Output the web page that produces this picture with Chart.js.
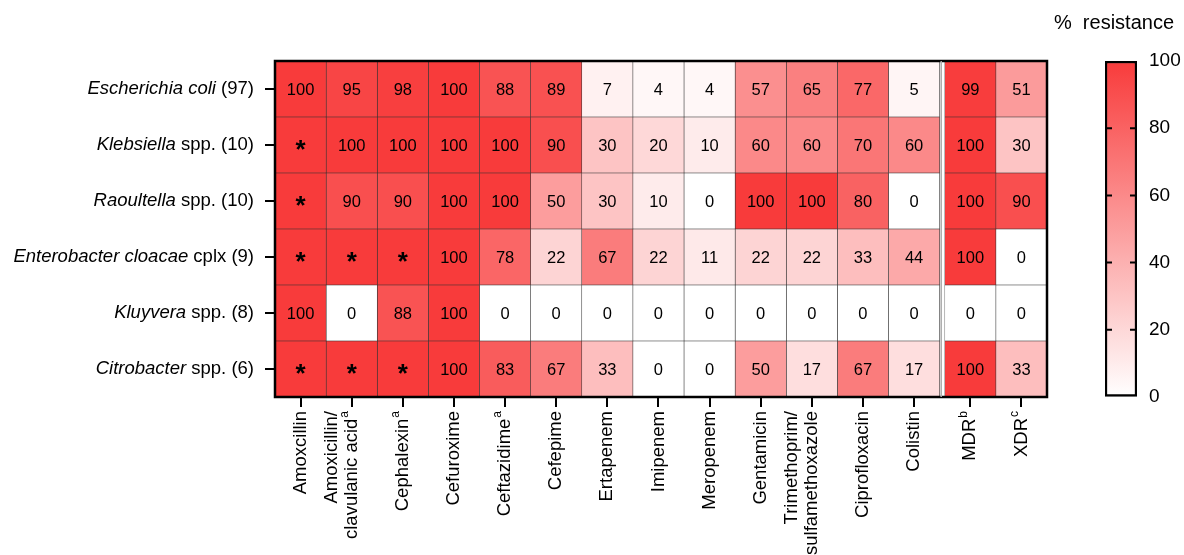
<!DOCTYPE html>
<html>
<head>
<meta charset="utf-8">
<script src="https://cdn.jsdelivr.net/npm/chart.js@4.4.1/dist/chart.umd.min.js"></script>
<style>
  html, body { margin: 0; padding: 0; background: #fff; }
  #wrap { position: relative; width: 1184px; height: 555px; }
  canvas { position: absolute; top: 0; }
</style>
</head>
<body>
<div id="wrap">
  <canvas id="heat" width="1184" height="555" style="left:0"></canvas>
  <canvas id="scale" width="144" height="555" style="left:1040px"></canvas>
</div>
<script>
// ── data ──
const species = ['Escherichia coli', 'Klebsiella', 'Raoultella', 'Enterobacter cloacae', 'Kluyvera', 'Citrobacter'];
const speciesSuffix = [' (97)', ' spp. (10)', ' spp. (10)', ' cplx (9)', ' spp. (8)', ' spp. (6)'];
const drugs = [['Amoxcillin'], ['Amoxicillin/', 'clavulanic acid'], ['Cephalexin'], ['Cefuroxime'], ['Ceftazidime'],
  ['Cefepime'], ['Ertapenem'], ['Imipenem'], ['Meropenem'], ['Gentamicin'], ['Trimethoprim/', 'sulfamethoxazole'],
  ['Ciprofloxacin'], ['Colistin'], ['MDR'], ['XDR']];
const drugSup = ['', 'a', 'a', '', 'a', '', '', '', '', '', '', '', '', 'b', 'c'];
const scaleTicks = [0, 20, 40, 60, 80, 100];

// % resistance per species, null = intrinsic resistance (*)
const ecoli        = [100, 95, 98, 100, 88, 89, 7, 4, 4, 57, 65, 77, 5, 99, 51];
const klebsiella   = [null, 100, 100, 100, 100, 90, 30, 20, 10, 60, 60, 70, 60, 100, 30];
const raoultella   = [null, 90, 90, 100, 100, 50, 30, 10, 0, 100, 100, 80, 0, 100, 90];
const enterobacter = [null, null, null, 100, 78, 22, 67, 22, 11, 22, 22, 33, 44, 100, 0];
const kluyvera     = [100, 0, 88, 100, 0, 0, 0, 0, 0, 0, 0, 0, 0, 0, 0];
const citrobacter  = [null, null, null, 100, 83, 67, 33, 0, 0, 50, 17, 67, 17, 100, 33];
const rows = [ecoli, klebsiella, raoultella, enterobacter, kluyvera, citrobacter];

// ── helpers ──
const FONT = '"Liberation Sans", Arial, sans-serif';
const GAP = 0.1;                       // small gap before MDR / XDR
const colStart = j => j + (j >= 13 ? GAP : 0);
const colorFor = v => {
  const t = (v == null ? 100 : v) / 100;
  const r = Math.round(255 - 7 * t), g = Math.round(255 - 196 * t);
  return `rgb(${r},${g},${g})`;
};

// ── labels, cell values, frame ──
const heatPlugin = {
  id: 'heatText',
  afterDatasetsDraw(chart) {
    const { ctx, chartArea, scales: { x, y } } = chart;
    ctx.save();
    ctx.fillStyle = '#000';
    ctx.textAlign = 'center';
    ctx.textBaseline = 'middle';
    chart.data.datasets.forEach((ds, j) => {
      chart.getDatasetMeta(j).data.forEach((el, i) => {
        const v = rows[i][j];
        const cx = (el.x + el.base) / 2;
        if (v == null) {
          ctx.font = 'bold 26px ' + FONT;
          ctx.fillText('*', cx, el.y + 6);
        } else {
          ctx.font = '16.5px ' + FONT;
          ctx.fillText(String(v), cx, el.y + 1);
        }
      });
    });

    // frame
    ctx.strokeStyle = '#000';
    ctx.lineWidth = 2.5;
    ctx.strokeRect(chartArea.left, chartArea.top, chartArea.right - chartArea.left, chartArea.bottom - chartArea.top);
    // separator before MDR
    const gx = x.getPixelForValue(13 + GAP / 2);
    ctx.strokeStyle = '#aaa';
    ctx.lineWidth = 1.5;
    ctx.beginPath();
    ctx.moveTo(gx - 1, chartArea.top);
    ctx.lineTo(gx - 1, chartArea.bottom);
    ctx.stroke();

    // row labels: italic genus + plain suffix
    ctx.textAlign = 'right';
    species.forEach((name, i) => {
      const py = y.getPixelForValue(i);
      const right = chartArea.left - 21;
      ctx.font = '18.5px ' + FONT;
      const w = ctx.measureText(speciesSuffix[i]).width;
      ctx.fillText(speciesSuffix[i], right, py);
      ctx.font = 'italic 18.5px ' + FONT;
      ctx.fillText(name, right - w, py);
    });

    // column labels, rotated, with superscripts
    drugs.forEach((lines, j) => {
      const px = x.getPixelForValue(colStart(j) + 0.5);
      ctx.save();
      ctx.translate(px, chartArea.bottom + 14);
      ctx.rotate(-Math.PI / 2);
      lines.forEach((line, k) => {
        const dy = (k - (lines.length - 1)) * 20;
        let off = 0;
        if (k === lines.length - 1 && drugSup[j]) {
          ctx.font = '12px ' + FONT;
          ctx.fillText(drugSup[j], 0, dy - 7);
          off = ctx.measureText(drugSup[j]).width + 1;
        }
        ctx.font = '18.5px ' + FONT;
        ctx.fillText(line, -off, dy);
      });
      ctx.restore();
    });
    ctx.restore();
  }
};

new Chart(document.getElementById('heat').getContext('2d'), {
  type: 'bar',
  data: {
    labels: species,
    datasets: drugs.map((d, j) => ({
      label: d.join(' '),
      data: rows.map(() => [colStart(j), colStart(j) + 1]),
      backgroundColor: c => colorFor(rows[c.dataIndex][j]),
      borderColor: '#333',
      borderWidth: 0.6,
      borderSkipped: false,
      grouped: false,
      barPercentage: 1,
      categoryPercentage: 1
    }))
  },
  options: {
    indexAxis: 'y',
    responsive: false,
    animation: false,
    layout: { padding: { left: 0, top: 61, right: 137, bottom: 0 } },
    plugins: { legend: { display: false }, tooltip: { enabled: false } },
    scales: {
      x: {
        type: 'linear', min: 0, max: 15 + GAP,
        afterBuildTicks: axis => { axis.ticks = drugs.map((d, j) => ({ value: colStart(j) + 0.5 })); },
        afterFit: axis => { axis.height = 158; },
        ticks: { display: false },
        grid: { drawOnChartArea: false, drawTicks: true, tickLength: 10, tickWidth: 2, tickColor: '#000', lineWidth: 2, color: '#000' },
        border: { display: false }
      },
      y: {
        afterFit: axis => { axis.width = 275; },
        ticks: { display: false },
        grid: { offset: false, drawOnChartArea: false, drawTicks: true, tickLength: 10, tickWidth: 2, tickColor: '#000', lineWidth: 2, color: '#000' },
        border: { display: false }
      }
    }
  },
  plugins: [heatPlugin]
});

// ── colour scale ──
const scalePlugin = {
  id: 'scaleDeco',
  afterDraw(chart) {
    const { ctx, chartArea, scales: { y } } = chart;
    ctx.save();
    ctx.strokeStyle = '#000';
    ctx.lineWidth = 2;
    scaleTicks.slice(1, -1).forEach(v => {
      const py = y.getPixelForValue(v);
      ctx.beginPath();
      ctx.moveTo(chartArea.left, py); ctx.lineTo(chartArea.left + 7, py);
      ctx.moveTo(chartArea.right - 7, py); ctx.lineTo(chartArea.right, py);
      ctx.stroke();
    });
    ctx.fillStyle = '#000';
    ctx.font = '20px ' + FONT;
    ctx.textAlign = 'right';
    ctx.textBaseline = 'middle';
    ctx.fillText('%  resistance', chart.width - 10, 23);
    ctx.restore();
  }
};

new Chart(document.getElementById('scale').getContext('2d'), {
  type: 'bar',
  data: {
    labels: ['% resistance'],
    datasets: [{
      data: [[scaleTicks[0], scaleTicks[scaleTicks.length - 1]]],
      backgroundColor: c => {
        const { ctx, chartArea } = c.chart;
        if (!chartArea) return colorFor(100);
        const g = ctx.createLinearGradient(0, chartArea.bottom, 0, chartArea.top);
        g.addColorStop(0, colorFor(0));
        g.addColorStop(1, colorFor(100));
        return g;
      },
      borderColor: '#000',
      borderWidth: 2.5,
      borderSkipped: false,
      barPercentage: 1,
      categoryPercentage: 1
    }]
  },
  options: {
    responsive: false,
    animation: false,
    layout: { padding: { left: 65, top: 61, right: 0, bottom: 158 } },
    plugins: { legend: { display: false }, tooltip: { enabled: false } },
    scales: {
      x: { display: false },
      y: {
        position: 'right', min: 0, max: 100,
        afterBuildTicks: axis => { axis.ticks = scaleTicks.map(v => ({ value: v })); },
        afterFit: axis => { axis.width = 47; },
        ticks: { color: '#000', font: { size: 19, family: FONT }, padding: 12 },
        grid: { drawOnChartArea: false, drawTicks: false },
        border: { display: false }
      }
    }
  },
  plugins: [scalePlugin]
});
</script>
</body>
</html>
